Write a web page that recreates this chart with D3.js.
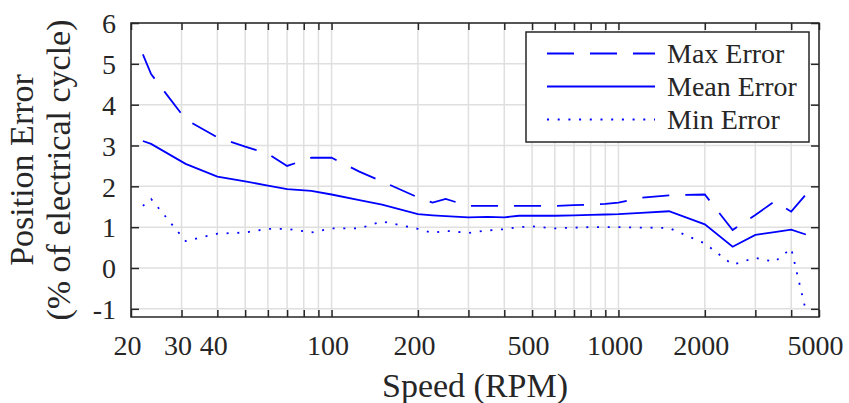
<!DOCTYPE html>
<html>
<head>
<meta charset="utf-8">
<script src="https://cdn.jsdelivr.net/npm/d3@7"></script>
<style>
  body { margin: 0; background: #fff; }
  text { font-family: "Liberation Serif", "DejaVu Serif", serif; fill: #262626; }
</style>
</head>
<body>
<svg id="chart" width="849" height="403"></svg>
<script>
// values
const speed   = [22, 23.5, 31, 40, 50, 60, 70, 85, 100, 125, 150, 200, 225, 250, 300, 350, 400, 450, 500,
                 600, 700, 800, 900, 1000, 1200, 1500, 2000, 2500, 3000, 3500, 4000, 4500];
const maxErr  = [5.23, 4.75, 3.64, 3.2, 2.97, 2.8, 2.5, 2.7, 2.7, 2.36, 2.12, 1.73, 1.6, 1.69, 1.52, 1.52, 1.52, 1.52, 1.52,
                 1.52, 1.54, 1.55, 1.57, 1.6, 1.72, 1.78, 1.8, 0.93, 1.3, 1.63, 1.38, 1.8];
const meanErr = [3.11, 3.04, 2.55, 2.24, 2.12, 2.02, 1.93, 1.89, 1.8, 1.66, 1.55, 1.32, 1.29, 1.27, 1.24, 1.25, 1.24, 1.28, 1.28,
                 1.28, 1.29, 1.3, 1.31, 1.32, 1.35, 1.39, 1.07, 0.52, 0.81, 0.88, 0.94, 0.82];
const minErr  = [1.52, 1.69, 0.66, 0.84, 0.87, 0.96, 0.96, 0.87, 0.97, 0.97, 1.14, 0.96, 0.86, 0.91, 0.86, 0.92, 0.95, 1.0, 1.02,
                 0.97, 0.99, 1.0, 1.0, 1.0, 0.99, 0.98, 0.6, 0.08, 0.25, 0.15, 0.48, -1.05];

const xLabelTicks = [20, 30, 40, 100, 200, 500, 1000, 2000, 5000];
const yTicks = [-1, 0, 1, 2, 3, 4, 5, 6];
const seriesNames = ["Max Error", "Mean Error", "Min Error"];

const margin = {top: 23, right: 30, bottom: 86, left: 131};
const W = 849, H = 403;
const iw = W - margin.left - margin.right;
const ih = H - margin.top - margin.bottom;

const svg = d3.select("#chart");
const g = svg.append("g").attr("transform", "translate(" + margin.left + "," + margin.top + ")");

const x = d3.scaleLog().domain([20, 5000]).range([0, iw]);
const y = d3.scaleLinear().domain([-1.2, 6]).range([ih, 0]);
const xTicks = x.ticks();

// grid
g.append("g").selectAll("line").data(xTicks).enter().append("line")
  .attr("x1", d => x(d)).attr("x2", d => x(d))
  .attr("y1", 0).attr("y2", ih)
  .attr("stroke", "#dfdfdf").attr("stroke-width", 1.5);
g.append("g").selectAll("line").data(yTicks).enter().append("line")
  .attr("x1", 0).attr("x2", iw)
  .attr("y1", d => y(d)).attr("y2", d => y(d))
  .attr("stroke", "#dfdfdf").attr("stroke-width", 1.5);

// series
const styles = [
  {data: maxErr, dash: "27,16"},
  {data: meanErr, dash: null},
  {data: minErr, dash: "2,8.7"}
];
const line = d3.line().x(d => x(d[0])).y(d => y(d[1]));

styles.forEach(s => {
  g.append("path")
    .datum(speed.map((v, i) => [v, s.data[i]]))
    .attr("d", line)
    .attr("fill", "none")
    .attr("stroke", "#0000ff")
    .attr("stroke-width", 1.8)
    .attr("stroke-dasharray", s.dash);
});

// axes: ticks inside on all four sides
const fmt = d => xLabelTicks.includes(d) ? d : "";
const xb = g.append("g").attr("transform", "translate(0," + ih + ")")
  .call(d3.axisBottom(x).tickValues(xTicks).tickFormat(fmt).tickSizeInner(-7).tickSizeOuter(0));
xb.selectAll("text").attr("y", 38).attr("dy", 0).attr("dx", -4).style("font-size", "28px");
const xt = g.append("g")
  .call(d3.axisTop(x).tickValues(xTicks).tickFormat("").tickSizeInner(-7).tickSizeOuter(0));
const yl = g.append("g")
  .call(d3.axisLeft(y).tickValues(yTicks).tickFormat(d => String(d)).tickSizeInner(-8).tickSizeOuter(0));
yl.selectAll("text").attr("x", -15).attr("dy", "0.35em").style("font-size", "28px");
const yr = g.append("g").attr("transform", "translate(" + iw + ",0)")
  .call(d3.axisRight(y).tickValues(yTicks).tickFormat("").tickSizeInner(-8).tickSizeOuter(0));

[xb, xt, yl, yr].forEach(a => {
  a.select(".domain").remove();
  a.selectAll("line").attr("stroke", "#262626").attr("stroke-width", 1.5);
  a.selectAll("text").attr("fill", "#262626").style("font-family", "Liberation Serif, serif");
});

g.append("rect").attr("width", iw).attr("height", ih)
  .attr("fill", "none").attr("stroke", "#262626").attr("stroke-width", 1.5);

// axis titles
svg.append("text").attr("x", 475).attr("y", 397).attr("text-anchor", "middle")
  .style("font-size", "34px").text("Speed (RPM)");
svg.append("text").attr("transform", "translate(33,170) rotate(-90)").attr("text-anchor", "middle")
  .style("font-size", "34px").text("Position Error");
svg.append("text").attr("transform", "translate(70,170) rotate(-90)").attr("text-anchor", "middle")
  .style("font-size", "34px").text("(% of electrical cycle)");

// legend
const lg = svg.append("g").attr("transform", "translate(526,32)");
lg.append("rect").attr("width", 283).attr("height", 110)
  .attr("fill", "#fff").attr("stroke", "#262626").attr("stroke-width", 1.5);
const rows = lg.selectAll(".row").data(seriesNames).enter().append("g")
  .attr("class", "row")
  .attr("transform", (d, i) => "translate(0," + (21.5 + i * 33) + ")");
rows.append("line")
  .attr("x1", 21).attr("x2", 129)
  .attr("stroke", "#0000ff").attr("stroke-width", 1.8)
  .attr("stroke-dasharray", (d, i) => styles[i].dash);
rows.append("text").attr("x", 141).attr("y", 9).style("font-size", "28px").text(d => d);
</script>
</body>
</html>
